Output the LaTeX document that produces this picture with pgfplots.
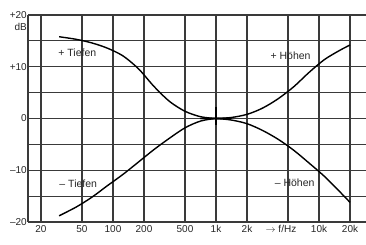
\documentclass[border=0pt]{standalone}
\usepackage{pgfplots}
\pgfplotsset{compat=1.18}
\usepackage{fontspec}
\setmainfont{Liberation Sans}
\definecolor{gridc}{HTML}{3A3A3A}
\begin{document}
\begin{tikzpicture}
\begin{axis}[
  scale only axis,
  width=338pt, height=207pt,
  xmode=log,
  xmin=14.96, xmax=28600,
  ymin=-20, ymax=20,
  axis line style={draw=none},
  major tick length=0pt,
  xtick={20,50,100,200,500,1000,2000,5000,10000,20000},
  xticklabels={20,50,100,200,500,1k,2k,{\hspace*{-14pt}$\rightarrow$ f/Hz},10k,20k},
  ytick={-20,-15,...,20},
  yticklabels={--20,,--10,,0,,+10,,+20},
  extra x ticks={14.96},
  extra x tick labels={},
  extra x tick style={grid=major},
  grid=major,
  major grid style={gridc, line width=1.1pt},
  tick label style={font=\fontsize{10}{11}\selectfont, text=black!85},
  yticklabel style={inner sep=1pt},
  xticklabel style={inner sep=1pt, yshift=-2pt},
  /pgf/number format/assume math mode=true,
  clip=false,
]
\coordinate (sw) at (rel axis cs:0,0);
% + Tiefen
\addplot[black, line width=1.4pt, smooth] coordinates {
 (30,15.8) (44,15.3) (62.5,14.6) (88,13.6) (125,12.1) (177,9.6) (250,6.2) (354,3.3) (500,1.4) (707,0.35) (1000,0) (1414,0)};
% - Tiefen
\addplot[black, line width=1.4pt, smooth] coordinates {
 (30,-18.8) (44,-17.1) (62.5,-15.2) (88,-13.0) (125,-10.8) (177,-8.4) (250,-6.0) (354,-3.8) (500,-1.8) (707,-0.5) (1000,0) (1414,0)};
% + Hoehen
\addplot[black, line width=1.4pt, smooth] coordinates {
 (707,0) (1000,0) (1414,0.2) (2000,0.8) (2828,2.0) (4000,3.8) (5657,6.1) (8000,8.9) (11314,11.4) (16000,13.2) (20000,14.2)};
% - Hoehen
\addplot[black, line width=1.4pt, smooth] coordinates {
 (707,0) (1000,0) (1414,-0.3) (2000,-1.0) (2828,-2.3) (4000,-4.0) (5657,-6.1) (8000,-8.6) (11314,-11.2) (16000,-14.2) (20000,-16.2)};
% 1k marker
\addplot[black, line width=1.2pt] coordinates {(1000,2.3) (1000,-1.3)};
\node[font=\fontsize{10.5}{11}\selectfont, text=black!85] at (axis cs:45,12.7) {+ Tiefen};
\node[font=\fontsize{10.5}{11}\selectfont, text=black!85] at (axis cs:46,-12.7) {-- Tiefen};
\node[font=\fontsize{10.5}{11}\selectfont, text=black!85] at (axis cs:5300,12.1) {+ Höhen};
\node[font=\fontsize{10.5}{11}\selectfont, text=black!85] at (axis cs:5800,-12.5) {-- Höhen};
\node[font=\fontsize{10}{11}\selectfont, text=black!85, anchor=east, inner sep=1pt] at (axis cs:14.96,17.6) {dB};
\end{axis}
\pgfresetboundingbox
\path[use as bounding box] ([shift={(-28pt,-22pt)}]sw) rectangle ([shift={(338pt,222pt)}]sw);
\end{tikzpicture}
\end{document}
